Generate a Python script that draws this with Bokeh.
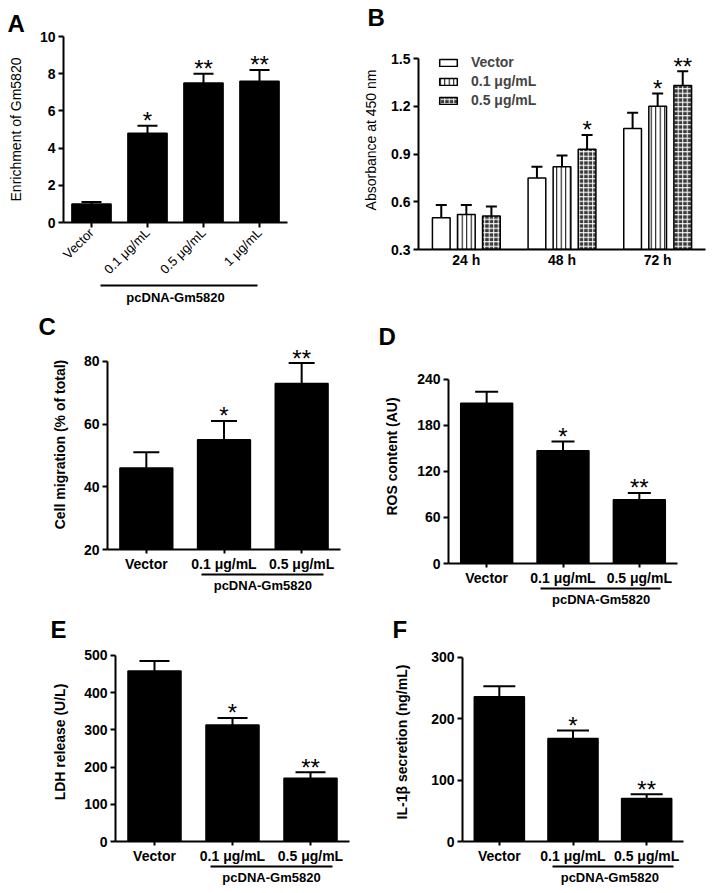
from bokeh.plotting import figure
from bokeh.models import (Range1d, LinearAxis, FixedTicker, ColumnDataSource)
from bokeh.layouts import column, row
from bokeh.embed import file_html
from bokeh.resources import INLINE
from bokeh.core.properties import value
import math

FONT = "Liberation Sans"
GROUP_LABEL = "pcDNA-Gm5820"

# ---------------- data ----------------
# Panel A
cats_A = ["Vector", "0.1 μg/mL", "0.5 μg/mL", "1 μg/mL"]
mean_A = [1.0, 4.8, 7.5, 7.6]
err_A = [0.1, 0.4, 0.5, 0.6]
star_A = ["", "*", "**", "**"]
yticks_A = [0, 2, 4, 6, 8, 10]

# Panel B
times_B = ["24 h", "48 h", "72 h"]
series_B = ["Vector", "0.1 μg/mL", "0.5 μg/mL"]
vec_B = [0.50, 0.75, 1.06]
vec_err_B = [0.08, 0.07, 0.10]
c01_B = [0.52, 0.82, 1.20]
c01_err_B = [0.06, 0.07, 0.08]
c05_B = [0.51, 0.93, 1.33]
c05_err_B = [0.06, 0.09, 0.09]
star_vec_B = ["", "", ""]
star_c01_B = ["", "", "*"]
star_c05_B = ["", "*", "**"]
yticks_B = [0.3, 0.6, 0.9, 1.2, 1.5]

# Panels C-F share categories
cats_3 = ["Vector", "0.1 μg/mL", "0.5 μg/mL"]
star_3 = ["", "*", "**"]

mean_C = [46, 55, 73]
err_C = [5, 6, 6.5]
yticks_C = [20, 40, 60, 80]

mean_D = [209, 147, 83]
err_D = [15, 12, 9]
yticks_D = [0, 60, 120, 180, 240]

mean_E = [458, 313, 170]
err_E = [27, 19, 16]
yticks_E = [0, 100, 200, 300, 400, 500]

mean_F = [236, 168, 70]
err_F = [17, 13, 7]
yticks_F = [0, 100, 200, 300]


def positions(cats):
    return [i + 0.5 for i in range(len(cats))]


def style_axes(p, tick_fs="14px", label_fs="14px", label_style="bold",
               xlabel_style="bold"):
    for ax in p.axis:
        ax.axis_line_width = 2
        ax.major_tick_line_width = 2
        ax.major_tick_out = 5
        ax.major_tick_in = 0
        ax.minor_tick_out = 0
        ax.minor_tick_in = 0
        ax.major_label_text_font = FONT
        ax.major_label_text_font_size = tick_fs
        ax.major_label_text_font_style = "bold"
        ax.major_label_text_color = "black"
        ax.axis_label_text_font = FONT
        ax.axis_label_text_font_size = label_fs
        ax.axis_label_text_font_style = label_style
        ax.axis_label_text_color = "black"
        ax.major_label_standoff = 3
    p.xaxis[0].major_label_text_font_style = xlabel_style


def make_fig(w, h, cats, y0, y1, ytop, borders, letter, offset):
    l, r, t, b = borders
    p = figure(width=w, height=h, x_range=Range1d(0, len(cats)),
               y_range=Range1d(y0, ytop),
               output_backend="svg", toolbar_location=None,
               min_border_left=l, min_border_right=r,
               min_border_top=t, min_border_bottom=b)
    p.outline_line_color = None
    p.grid.visible = False
    xs = positions(cats)
    p.xaxis.ticker = FixedTicker(ticks=xs)
    p.xaxis.major_label_overrides = {x: c for x, c in zip(xs, cats)}
    p.yaxis.bounds = (y0, y1)
    p.title.text = letter
    p.title.align = "left"
    p.title.offset = offset
    p.title.standoff = 0
    p.title.text_font = FONT
    p.title.text_font_size = "24px"
    p.title.text_font_style = "bold"
    p.title.text_color = "black"
    return p


def add_group_axis(p, center, b0, b1):
    g = LinearAxis(ticker=FixedTicker(ticks=[center]),
                   major_label_overrides={center: GROUP_LABEL}, bounds=(b0, b1))
    p.add_layout(g, "below")
    return g


def finish_group_axis(g, standoff=3):
    g.major_tick_out = 0
    g.major_tick_in = 0
    g.major_label_standoff = standoff
    g.major_label_text_font_size = "13px"


def bar_panel(cats, means, errs, stars, y0, y1, ytop, yticks, ylabel, borders,
              w, h, bar_w, cap_px, label_standoff, letter, offset):
    p = make_fig(w, h, cats, y0, y1, ytop, borders, letter, offset)
    uppers = [m + e for m, e in zip(means, errs)]
    src = ColumnDataSource(dict(x=positions(cats), top=means, upper=uppers,
                                star=stars))
    p.vbar(x="x", top="top", bottom=y0, width=bar_w, source=src,
           fill_color="black", line_color="black", line_width=1.5)
    p.segment(x0="x", y0="top", x1="x", y1="upper", source=src,
              line_color="black", line_width=2)
    p.scatter(x="x", y="upper", marker="dash", size=cap_px, source=src,
              line_color="black", line_width=2)
    p.text(x="x", y="upper", text="star", source=src, text_align="center",
           text_baseline="alphabetic", y_offset=-5, text_font=value(FONT),
           text_font_size="24px", text_color="black")
    p.yaxis.ticker = FixedTicker(ticks=yticks)
    p.yaxis.axis_label = ylabel
    p.yaxis.axis_label_standoff = label_standoff
    return p


def lower_axes(p, g):
    p.xaxis[0].major_tick_out = 4
    p.xaxis[0].major_label_standoff = 2
    finish_group_axis(g)


# ---------------- Panel A ----------------
pA = bar_panel(cats_A, mean_A, err_A, star_A, 0, 10, 10, yticks_A,
               "Enrichment of Gm5820", (63, 73, 36, 87), 360, 309,
               0.7, 20, 13, "A", -56)
pA.xaxis.major_label_orientation = math.pi / 4
gA = add_group_axis(pA, 2.0, 0.66, 3.46)
style_axes(pA, label_style="normal", xlabel_style="normal")
pA.xaxis[0].major_label_text_font_size = "13px"
finish_group_axis(gA, 4)

# ---------------- Panel B ----------------
pB = make_fig(350, 309, times_B, 0.3, 1.5, 1.676, (53, 5, 30, 60), "B", -51)
offs = [-0.262, 0.0, 0.262]
vals = [vec_B, c01_B, c05_B]
errs = [vec_err_B, c01_err_B, c05_err_B]
stars = [star_vec_B, star_c01_B, star_c05_B]
fills = ["white", "white", "#3a3a3a"]
hatches = [" ", "vertical_line", "cross"]
hcolors = ["black", "black", "white"]
for name, off, v, e, s, fc, hp, hc in zip(series_B, offs, vals, errs, stars,
                                           fills, hatches, hcolors):
    up = [a + b for a, b in zip(v, e)]
    xd = [x + off for x in positions(times_B)]
    src = ColumnDataSource(dict(x=xd, top=v, upper=up, star=s))
    pB.vbar(x="x", top="top", bottom=0.3, width=0.185, source=src,
            fill_color=fc, line_color="black", line_width=1.5,
            hatch_pattern=hp, hatch_color=hc, hatch_scale=4.5, hatch_weight=1,
            legend_label=name)
    pB.segment(x0="x", y0="top", x1="x", y1="upper", source=src,
               line_color="black", line_width=2)
    pB.scatter(x="x", y="upper", marker="dash", size=11, source=src,
               line_color="black", line_width=2)
    pB.text(x="x", y="upper", text="star", source=src, text_align="center",
            text_baseline="alphabetic", y_offset=-5, text_font=value(FONT),
            text_font_size="24px", text_color="black")
pB.yaxis.ticker = FixedTicker(ticks=yticks_B)
pB.yaxis.axis_label = "Absorbance at 450 nm"
pB.yaxis.axis_label_standoff = 9
style_axes(pB, label_style="normal")
pB.xaxis.major_tick_out = 0
pB.xaxis.major_label_standoff = 2
lg = pB.legend[0]
lg.location = (19, 141)
lg.padding = 0
lg.margin = 0
lg.spacing = 3
lg.label_height = 15
lg.glyph_height = 9
lg.glyph_width = 22
lg.label_standoff = 12
lg.border_line_alpha = 0
lg.background_fill_alpha = 0
lg.label_text_font = FONT
lg.label_text_font_size = "14px"
lg.label_text_font_style = "bold"

# ---------------- Panel C ----------------
pC = bar_panel(cats_3, mean_C, err_C, star_3, 20, 80, 87.0, yticks_C,
               "Cell migration (% of total)", (107, 20, 30, 61), 360, 301,
               0.68, 26, 13, "C", -69)
gC = add_group_axis(pC, 2.0, 1.21, 2.78)
style_axes(pC)
lower_axes(pC, gC)

# ---------------- Panel D ----------------
pD = bar_panel(cats_3, mean_D, err_D, star_3, 0, 240, 279.1, yticks_D,
               "ROS content (AU)", (88, 33, 40, 47), 350, 301,
               0.68, 23, 14, "D", -70)
gD = add_group_axis(pD, 2.0, 1.21, 2.78)
style_axes(pD)
lower_axes(pD, gD)

# ---------------- Panel E ----------------
pE = bar_panel(cats_3, mean_E, err_E, star_3, 0, 500, 534.9, yticks_E,
               "LDH release (U/L)", (115, 11, 32, 46), 360, 277,
               0.68, 30, 13, "E", -65)
gE = add_group_axis(pE, 2.0, 1.22, 2.78)
style_axes(pE)
lower_axes(pE, gE)

# ---------------- Panel F ----------------
pF = bar_panel(cats_3, mean_F, err_F, star_3, 0, 300, 324.2, yticks_F,
               "IL-1β secretion (ng/mL)", (102, 27, 32, 44), 350, 277,
               0.68, 32, 18, "F", -70)
gF = add_group_axis(pF, 2.0, 1.22, 2.86)
style_axes(pF)
lower_axes(pF, gF)

layout = column(row(column(pA), column(pB)),
                row(column(pC), column(pD)),
                row(column(pE), column(pF)))
open("out.html", "w").write(file_html(layout, INLINE))
